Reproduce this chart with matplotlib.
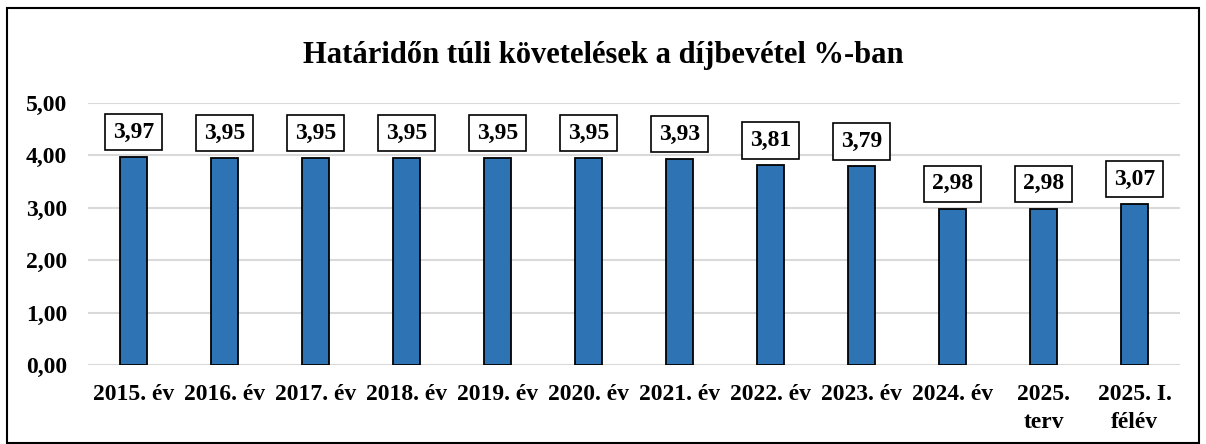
import matplotlib
matplotlib.use('Agg')
import matplotlib.pyplot as plt
from matplotlib.patches import Rectangle

# Chart data
categories = ['2015. év', '2016. év', '2017. év', '2018. év', '2019. év', '2020. év',
              '2021. év', '2022. év', '2023. év', '2024. év', '2025.\nterv', '2025. I.\nfélév']
values = [3.97, 3.95, 3.95, 3.95, 3.95, 3.95, 3.93, 3.81, 3.79, 2.98, 2.98, 3.07]
y_ticks = [0, 1, 2, 3, 4, 5]

plt.rcParams['font.family'] = ['Liberation Serif', 'DejaVu Serif']
plt.rcParams['font.weight'] = 'bold'

fig = plt.figure(figsize=(12.06, 4.44), dpi=100)
ax = fig.add_axes([88 / 1206, 1 - 365 / 444, (1180 - 88) / 1206, (365 - 103) / 444])

x = range(len(categories))
bars = ax.bar(x, values, width=0.3, color='#2E74B5', edgecolor='black', linewidth=1.3, zorder=3)

for xi, v in zip(x, values):
    ax.annotate(f'{v:.2f}'.replace('.', ','), (xi, v), xytext=(0, 18), textcoords='offset points',
                ha='center', va='center', fontsize=17, fontweight='bold',
                bbox=dict(boxstyle='square,pad=0.33', facecolor='white', edgecolor='black', linewidth=1.2))

ax.set_xlim(-0.5, len(categories) - 0.5)
ax.set_ylim(0, 5)
ax.set_yticks(y_ticks)
ax.set_yticklabels([f'{t:.2f}'.replace('.', ',') for t in y_ticks], fontsize=17, fontweight='bold')
ax.set_xticks(list(x))
ax.set_xticklabels(categories, fontsize=17, fontweight='bold', linespacing=1.4)
ax.tick_params(axis='x', length=0, pad=14)
ax.tick_params(axis='y', length=0, pad=15)
ax.grid(axis='y', color='#D9D9D9', linewidth=1.5, zorder=0)
for s in ax.spines.values():
    s.set_visible(False)

fig.text(0.5, 1 - 63 / 444, 'Határidőn túli követelések a díjbevétel %-ban', ha='center', va='baseline',
         fontsize=22, fontweight='bold')

fig.patches.append(Rectangle((7 / 1206, 0.002), 1 - 14 / 1206, 1 - 8 / 444 - 0.002,
                             transform=fig.transFigure, fill=False, edgecolor='black', linewidth=1.5))

plt.savefig('out.png', dpi=100)
